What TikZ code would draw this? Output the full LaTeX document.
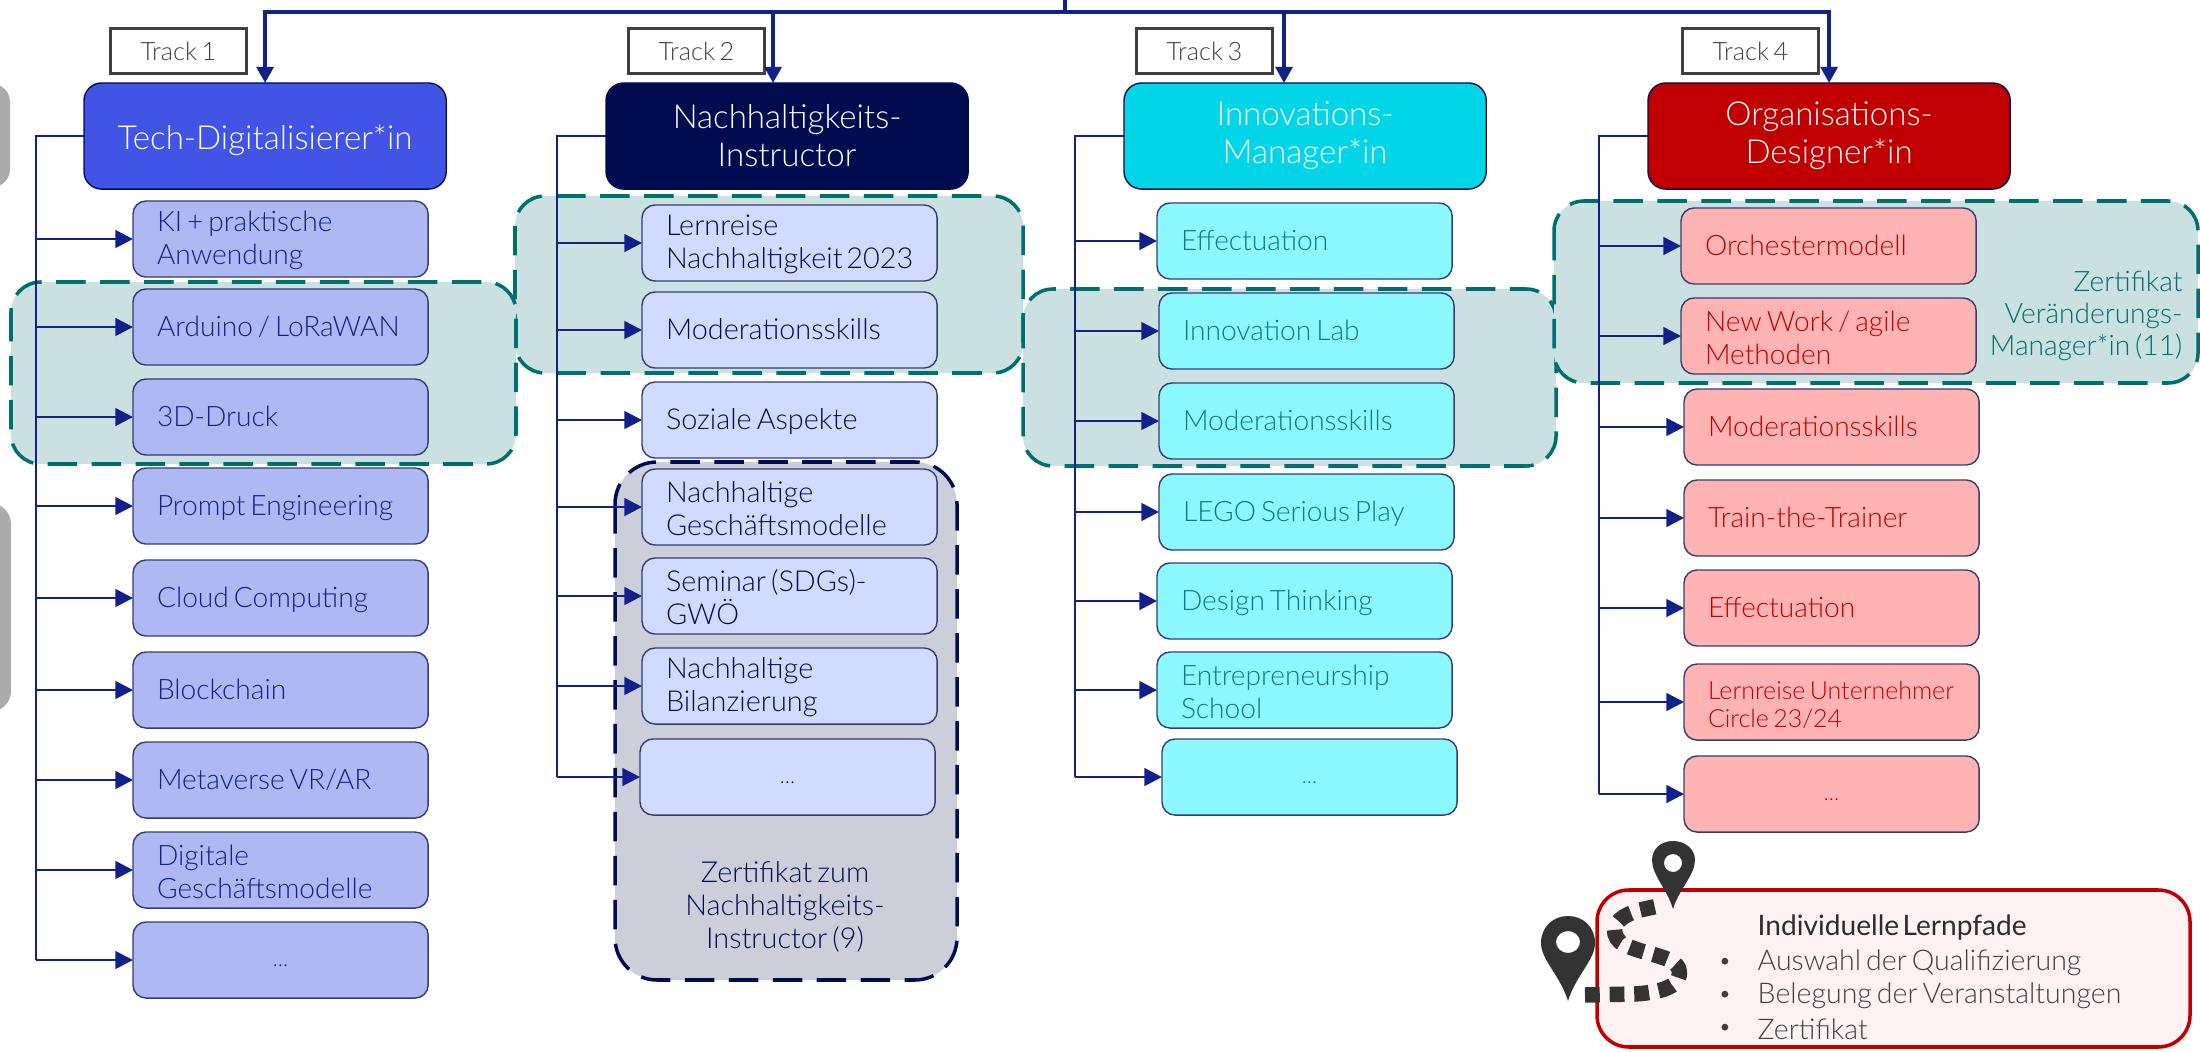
\documentclass[tikz,border=0pt]{standalone}
\usepackage{fontspec}
\setmainfont{Lato}[UprightFont=* Light,WordSpace=0.65]
\newfontfamily\titlefont{Lato}[WordSpace=0.45]
\usetikzlibrary{arrows.meta}
\definecolor{linkblue}{HTML}{11208A}
\definecolor{certteal}{HTML}{006F70}
\definecolor{tealfill}{HTML}{CBE0E0}
\definecolor{navy}{HTML}{000C4F}
\definecolor{navyfill}{HTML}{CCCEDA}
\definecolor{ink}{HTML}{404040}
\definecolor{techblue}{HTML}{4154E6}
\definecolor{techpale}{HTML}{AEB9F4}
\definecolor{ecopale}{HTML}{D1DAFF}
\definecolor{innocyan}{HTML}{00D6E8}
\definecolor{innopale}{HTML}{8CF8FF}
\definecolor{innotext}{HTML}{0B7C82}
\definecolor{orgred}{HTML}{C00000}
\definecolor{orgpale}{HTML}{FFB3B3}
\definecolor{panelfill}{HTML}{FFF2F2}
\def\itemrise{8pt}
\tikzset{
  head/.style={draw=navy,rounded corners=5pt,minimum width=3.62cm,minimum height=1.06cm,outer sep=0pt,
    text=white,align=center,font=\fontsize{9.4}{10.8}\selectfont,anchor=north west,inner sep=0pt,
    execute at begin node={\rule{0pt}{9.4pt}}},
  item/.style={draw=navy!80,line width=.4pt,rounded corners=3.7pt,minimum width=2.95cm,minimum height=.76cm,
    text width=2.47cm,inner xsep=.24cm,inner ysep=0pt,align=flush left,anchor=north west,outer sep=0pt,
    font=\fontsize{8}{9.4}\selectfont,execute at begin node={\rule[-1.2pt]{0pt}{\itemrise}}},
  dotsbox/.style={item,align=center,font=\fontsize{6}{7}\selectfont,/utils/exec={\def\itemrise{6.2pt}}},
  trackbox/.style={draw=ink,line width=.8pt,minimum width=1.36cm,minimum height=.45cm,
    text=ink,font=\fontsize{7.2}{8}\selectfont,anchor=north west,inner sep=0pt},
  group/.style={rounded corners=8.5pt,line width=1pt,dash pattern=on 8.4pt off 4.1pt},
  link/.style={draw=linkblue,line width=.75pt},
  branch/.style={link,-{Triangle[length=5pt,width=5pt]}},
  feed/.style={draw=linkblue,line width=1.05pt,-{Triangle[length=4.6pt,width=4.8pt]}},
  panelline/.style={text=ink,font=\fontsize{8.1}{9}\selectfont,inner sep=0pt},
}
\begin{document}
\begin{tikzpicture}[x=.01cm,y=-.01cm]
\useasboundingbox (0,0) rectangle (2200,1052);

% Grey boxes cut off at the left edge
\path[fill=black!33,rounded corners=5pt] (-30,84) rectangle (10,187);
\path[fill=black!33,rounded corners=6pt] (-30,503) rectangle (11,712);

% Certificate groups behind the items
\path[group,draw=certteal,fill=tealfill] (515,196) rectangle (1023,373);
\path[group,draw=certteal,fill=tealfill] (11,282) rectangle (516,464);
\path[group,draw=certteal,fill=tealfill] (1023,289) rectangle (1556,466);
\path[group,draw=certteal,fill=tealfill] (1554,201) rectangle (2198,383);
\path[group,rounded corners=12pt,draw=navy,fill=navyfill] (615,462) rectangle (957,980);

% Track headers
\node[head,fill=techblue] (t1head) at (84,83) {Tech-Digitalisierer*in};
\node[head,fill=navy] (t2head) at (606,83) {Nachhaltigkeits-\\Instructor};
\node[head,fill=innocyan] (t3head) at (1124,83) {Innovations-\\Manager*in};
\node[head,fill=orgred] (t4head) at (1648,83) {Organisations-\\Designer*in};

% Track labels
\node[trackbox] (t1box) at (109,27) {Track 1};
\node[trackbox] (t2box) at (627,27) {Track 2};
\node[trackbox] (t3box) at (1135,27) {Track 3};
\node[trackbox] (t4box) at (1681,27) {Track 4};

% Feed from the top
\coordinate (root) at (1065,12);
\coordinate (rootup) at (1065,0);
\draw[link,line width=1.05pt] (root) -- (rootup);
\draw[feed] (root) -| (t1head.north);
\draw[feed] (root) -| ([xshift=-4pt]t2head.north);
\draw[feed] (root) -| ([xshift=-6pt]t3head.north);
\draw[feed] (root) -| (t4head.north);

% Track 1
\tikzset{item1/.style={item,fill=techpale,text=linkblue}}
\foreach \name/\ytop/\txt in {a/201/{KI + praktische\\Anwendung},b/289/{Arduino / LoRaWAN},c/379/{3D-Druck},
  d/468/{Prompt Engineering},e/560/{Cloud Computing},f/652/{Blockchain},g/742/{Metaverse VR/AR},
  h/832/{Digitale\\Geschäftsmodelle}}
  \node[item1] (t1\name) at (133,\ytop) {\txt};
\node[item1,dotsbox] (t1i) at (133,922) {…};
\path (t1head.west) -- +(-48,0) coordinate (t1bus);
\draw[link] (t1head.west) -- (t1bus) -- (t1bus |- t1i.west);
\foreach \name in {a,b,c,d,e,f,g,h,i}
  \draw[branch] (t1bus |- t1\name.west) -- (t1\name.west);

% Track 2
\tikzset{item2/.style={item,fill=ecopale,text=navy,font=\fontsize{8.2}{9.4}\selectfont}}
\foreach \name/\ytop/\txt in {a/205/{Lernreise\\Nachhaltigkeit~2023},b/292/{Moderationsskills},
  c/382/{Soziale Aspekte},d/469/{Nachhaltige\\Geschäftsmodelle},e/558/{Seminar (SDGs)-\\GWÖ},
  f/648/{Nachhaltige\\Bilanzierung}}
  \node[item2] (t2\name) at (642,\ytop) {\txt};
\node[item2,dotsbox] (t2g) at (640,739) {…};
\path (t2head.west) -- +(-49,0) coordinate (t2bus);
\draw[link] (t2head.west) -- (t2bus) -- (t2bus |- t2g.west);
\foreach \name in {a,b,c,d,e,f,g}
  \draw[branch] (t2bus |- t2\name.west) -- (t2\name.west);
\node[text=navy,align=center,font=\fontsize{8.2}{9.5}\selectfont] (t2cert) at (785,907) {Zertifikat zum\\Nachhaltigkeits-\\Instructor (9)};

% Track 3
\tikzset{item3/.style={item,fill=innopale,text=innotext}}
\foreach \name/\xleft/\ytop/\txt in {a/1157/203/{Effectuation},b/1159/293/{Innovation Lab},c/1159/383/{Moderationsskills},
  d/1159/474/{LEGO Serious Play},e/1157/563/{Design Thinking},f/1157/652/{Entrepreneurship\\School}}
  \node[item3] (t3\name) at (\xleft,\ytop) {\txt};
\node[item3,dotsbox] (t3g) at (1162,739) {…};
\path (t3head.west) -- +(-49,0) coordinate (t3bus);
\draw[link] (t3head.west) -- (t3bus) -- (t3bus |- t3g.west);
\foreach \name in {a,b,c,d,e,f,g}
  \draw[branch] (t3bus |- t3\name.west) -- (t3\name.west);

% Track 4
\tikzset{item4/.style={item,fill=orgpale,text=orgred}}
\foreach \name/\xleft/\ytop/\txt in {a/1681/208/{Orchestermodell},b/1681/298/{New Work / agile\\Methoden},
  c/1684/389/{Moderationsskills},d/1684/480/{Train-the-Trainer},e/1684/570/{Effectuation}}
  \node[item4] (t4\name) at (\xleft,\ytop) {\txt};
\node[item4,font=\fontsize{7.1}{8.2}\selectfont] (t4f) at (1684,664) {Lernreise Unternehmer\\Circle 23/24};
\node[item4,dotsbox] (t4g) at (1684,756) {…};
\path (t4head.west) -- +(-49,0) coordinate (t4bus);
\draw[link] (t4head.west) -- (t4bus) -- (t4bus |- t4g.west);
\foreach \name in {a,b,c,d,e,f,g}
  \draw[branch] (t4bus |- t4\name.west) -- (t4\name.west);
\node[text=certteal,align=right,anchor=east,inner sep=0pt,font=\fontsize{8}{9.1}\selectfont] (t4cert) at (2183,316) {Zertifikat\\Veränderungs-\\Manager*in (11)};

% Learning paths panel
\path[draw=orgred,line width=1pt,fill=panelfill,rounded corners=9pt] (1597,890) rectangle (2190,1047);
\node[panelline,text=ink!70!black,anchor=west,font=\titlefont\fontsize{8}{9}\selectfont] (lp) at (1757,928) {Individuelle Lernpfade};
\foreach \name/\ypos/\txt in {a/963/{Auswahl der Qualifizierung},b/996/{Belegung der Veranstaltungen},c/1029/{Zertifikat}}{
  \node[panelline,anchor=west] (lp\name) at (1757,\ypos) {\txt};
  \node[panelline,font=\fontsize{6.5}{8}\selectfont] (bl\name) at (1725,\ypos) {•};
}

% Dotted route and pins
\draw[ink!80!black,line width=4.4pt,dash pattern=on 4.2pt off 2.8pt] (1585,995) -- (1635,994) .. controls (1665,992) and (1682,985) .. (1679,970)
  .. controls (1676,955) and (1640,955) .. (1620,942) .. controls (1610,932) and (1612,918) .. (1640,910) -- (1658,906);
\fill[ink!80!black,even odd rule] (1568,1001) .. controls (1560,975) and (1541,960) .. (1541,943) .. controls (1541,927) and (1553,916) .. (1568,916)
  .. controls (1583,916) and (1595,927) .. (1595,943) .. controls (1595,960) and (1576,975) .. (1568,1001) -- cycle
  (1568,942) ellipse [x radius=12,y radius=11];
\fill[ink!80!black,even odd rule] (1673,909) .. controls (1667,889) and (1652,875) .. (1652,860) .. controls (1652,849) and (1661,841) .. (1673,841)
  .. controls (1685,841) and (1695,849) .. (1695,860) .. controls (1695,875) and (1679,889) .. (1673,909) -- cycle
  (1673,863) ellipse [x radius=9,y radius=9];
\end{tikzpicture}
\end{document}
